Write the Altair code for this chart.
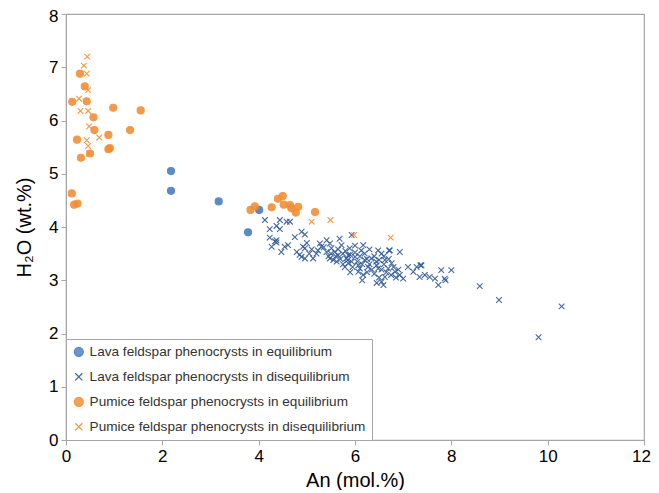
import pandas as pd
import altair as alt

# Lava feldspar phenocrysts in equilibrium
lava_eq_x = [2.18, 2.18, 3.17, 4.01, 3.78]
lava_eq_y = [5.05, 4.68, 4.48, 4.32, 3.90]

# Lava feldspar phenocrysts in disequilibrium
lava_dis_x = [
    4.13, 4.44, 4.58, 4.65, 4.37, 4.23, 4.44, 4.89, 4.96, 4.75, 4.23, 4.34,
    4.37, 4.61, 4.54, 4.92, 4.96, 4.47, 4.79, 4.89, 4.96, 5.13, 4.85, 5.27,
    5.30, 5.23, 5.41, 5.48, 5.51, 5.58, 5.68, 5.72, 5.75, 5.65, 5.82, 5.86,
    5.79, 5.62, 5.89, 5.41, 5.48, 5.93, 6.17, 6.13, 6.48, 6.55, 6.72, 6.93,
    5.86, 6.00, 6.20, 6.34, 6.44, 6.62, 6.76, 6.27, 6.48, 6.69, 6.83, 6.93,
    6.62, 7.00, 7.10, 7.28, 7.38, 7.21, 7.34, 7.45, 7.55, 7.66, 7.79, 7.86,
    7.73, 8.00, 6.55, 6.59, 6.07, 5.93, 6.07, 6.17, 4.37, 4.27,
    5.60, 5.70, 5.75, 5.80, 5.85, 5.90, 5.95, 6.00, 6.05, 6.10, 6.10, 6.15,
    6.20, 6.25, 6.30, 6.35, 6.40, 6.40, 6.45, 6.50, 6.50, 6.55, 6.60, 6.65,
    6.70, 6.75, 6.80, 6.85, 6.90, 5.50, 5.55, 5.65, 5.35, 5.45, 5.20, 5.10,
    5.00, 5.05, 6.30, 6.00, 6.45, 6.25, 6.60, 5.90, 6.15, 7.88, 7.36, 6.71,
    8.59, 8.99, 9.81, 10.29,
]
lava_dis_y = [
    4.13, 4.13, 4.10, 4.10, 4.02, 3.96, 3.96, 3.91, 3.86, 3.81, 3.80, 3.73,
    3.71, 3.66, 3.63, 3.63, 3.60, 3.53, 3.53, 3.44, 3.41, 3.41, 3.48, 3.69,
    3.63, 3.56, 3.75, 3.69, 3.60, 3.53, 3.78, 3.66, 3.50, 3.47, 3.41, 3.32,
    3.25, 3.35, 3.60, 3.53, 3.41, 3.85, 3.66, 3.56, 3.56, 3.50, 3.56, 3.53,
    3.47, 3.44, 3.38, 3.41, 3.35, 3.38, 3.32, 3.25, 3.22, 3.22, 3.16, 3.10,
    3.06, 3.03, 3.25, 3.25, 3.28, 3.16, 3.06, 3.10, 3.06, 3.03, 3.19, 3.03,
    2.91, 3.19, 2.97, 2.91, 3.28, 3.35, 3.16, 3.10, 3.75, 3.63,
    3.45, 3.40, 3.30, 3.55, 3.38, 3.48, 3.25, 3.52, 3.35, 3.45, 3.22, 3.30,
    3.50, 3.40, 3.30, 3.20, 3.45, 3.12, 3.28, 3.38, 3.05, 3.20, 3.30, 3.15,
    3.40, 3.10, 3.25, 3.05, 3.20, 3.50, 3.38, 3.58, 3.62, 3.45, 3.50, 3.58,
    3.70, 3.50, 3.58, 3.65, 2.95, 3.15, 3.45, 3.15, 3.00, 3.00, 3.28, 3.56,
    2.89, 2.63, 1.93, 2.51,
]

# Pumice feldspar phenocrysts in equilibrium
pum_eq_x = [
    0.29, 0.39, 0.13, 0.43, 0.98, 1.55, 0.57, 0.59, 1.33, 0.88, 0.23, 0.91,
    0.88, 0.50, 0.31, 0.12, 0.17, 0.24,
    3.83, 3.92, 4.27, 4.40, 4.50, 4.52, 4.65, 4.68, 4.82, 4.77, 5.17,
]
pum_eq_y = [
    6.88, 6.64, 6.35, 6.36, 6.24, 6.19, 6.06, 5.82, 5.82, 5.73, 5.64, 5.48,
    5.46, 5.38, 5.30, 4.63, 4.42, 4.44,
    4.32, 4.39, 4.37, 4.53, 4.58, 4.42, 4.41, 4.35, 4.38, 4.27, 4.28,
]

# Pumice feldspar phenocrysts in disequilibrium
pum_dis_x = [0.44, 0.37, 0.43, 0.46, 0.27, 0.30, 0.46, 0.48, 0.69, 0.43,
             0.46, 0.48, 5.10, 5.49, 5.98, 6.74]
pum_dis_y = [7.20, 7.03, 6.88, 6.57, 6.41, 6.18, 6.18, 5.89, 5.68, 5.63,
             5.52, 5.38, 4.10, 4.13, 3.85, 3.80]

series_names = [
    "Lava feldspar phenocrysts in equilibrium",
    "Lava feldspar phenocrysts in disequilibrium",
    "Pumice feldspar phenocrysts in equilibrium",
    "Pumice feldspar phenocrysts in disequilibrium",
]
series_colors = ["#4a7ec0", "#2f5a96", "#f28e35", "#f28e35"]
X_PATH = "M-0.8,-0.8L0.8,0.8M-0.8,0.8L0.8,-0.8"
series_shapes = ["circle", X_PATH, "circle", X_PATH]

frames = []
for name, xs, ys in zip(series_names,
                        [lava_eq_x, lava_dis_x, pum_eq_x, pum_dis_x],
                        [lava_eq_y, lava_dis_y, pum_eq_y, pum_dis_y]):
    frames.append(pd.DataFrame({"an": xs, "h2o": ys, "series": name}))
df = pd.concat(frames, ignore_index=True)

color_scale = alt.Scale(domain=series_names, range=series_colors)
legend = alt.Legend(
    orient="bottom-left", offset=0, padding=6,
    strokeColor="#a6a6a6", fillColor="white",
    labelFontSize=13.6, labelColor="#333333", labelFont="Liberation Sans",
    labelLimit=400, symbolSize=80, rowPadding=10, symbolStrokeWidth=1.3,
)

# the last x label sits at the page edge, nudge it in a little
x_axis = alt.Axis(values=[0, 2, 4, 6, 8, 10, 12], titlePadding=6,
                  labelFlush=False,
                  labelOffset=alt.ExprRef("datum.value == 12 ? -3 : 0"))
y_axis = alt.Axis(values=list(range(9)), titlePadding=14, labelFlush=False,
                  labelOffset=alt.ExprRef("datum.value == 8 ? 2 : 0"))

chart = alt.Chart(df).mark_point(opacity=0.9, strokeWidth=1.1, size=50).encode(
    x=alt.X("an:Q", title="An (mol.%)",
            scale=alt.Scale(domain=[0, 12], nice=False), axis=x_axis),
    y=alt.Y("h2o:Q", title="H₂O (wt.%)",
            scale=alt.Scale(domain=[0, 8], nice=False), axis=y_axis),
    fill=alt.Fill("series:N", scale=color_scale, legend=legend, title=None),
    stroke=alt.Stroke("series:N", scale=color_scale, legend=legend, title=None),
    shape=alt.Shape("series:N",
                    scale=alt.Scale(domain=series_names, range=series_shapes),
                    legend=legend, title=None),
).properties(
    width=578, height=426,
    autosize=alt.AutoSizeParams(type="none"),
    padding={"left": 58, "top": 6, "right": 7, "bottom": 50},
).configure_view(
    stroke="#a6a6a6", strokeWidth=1.2,
).configure_axis(
    grid=False, domainColor="#a6a6a6", tickColor="#a6a6a6", tickSize=5,
    labelFont="Liberation Sans", labelFontSize=17, labelColor="black",
    titleFont="Liberation Sans", titleFontSize=20, titleFontWeight="normal",
    titleColor="black", labelPadding=3,
)

chart.save("out.html", embed_options={"renderer": "svg", "actions": False})
